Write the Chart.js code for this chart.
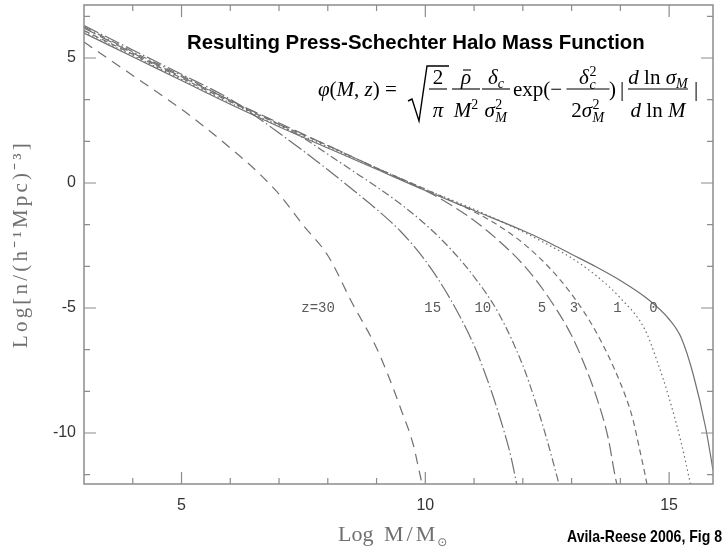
<!DOCTYPE html>
<html><head><meta charset="utf-8">
<script src="https://cdn.jsdelivr.net/npm/chart.js@4/dist/chart.umd.min.js"></script>
<style>html,body{margin:0;padding:0;background:#fff;}#wrap{position:relative;width:727px;height:552px;}</style>
</head><body><div id="wrap"><canvas id="c"></canvas></div>
<script>
// ---- data (log M/Msun, log n) ----
const z0_logM  = [3,4,5,6,7,8,9,10,11,12,12.5,13,13.5,14,14.5,15,15.25,15.5,15.75,15.9,16];
const z0_logN  = [6.0,5.05,4.1,3.15,2.25,1.4,0.55,-0.3,-1.1,-1.9,-2.35,-2.85,-3.35,-3.9,-4.55,-5.45,-6.2,-7.7,-9.8,-11.5,-12.8];
const z1_logM  = [3,4,5,6,7,8,9,10,11,12,12.5,13,13.5,14,14.5,14.75,15,15.25,15.4,15.5];
const z1_logN  = [6.05,5.1,4.15,3.2,2.3,1.45,0.6,-0.25,-1.05,-1.95,-2.45,-3.0,-3.7,-4.6,-5.85,-7.1,-8.6,-10.4,-11.7,-12.6];
const z3_logM  = [3,4,5,6,7,8,9,10,11,11.5,12,12.5,13,13.5,14,14.25,14.4,14.5,14.6];
const z3_logN  = [6.1,5.15,4.2,3.25,2.35,1.5,0.6,-0.25,-1.15,-1.7,-2.4,-3.3,-4.45,-5.95,-8.0,-9.4,-10.7,-11.6,-12.6];
const z5_logM  = [3,4,5,6,7,8,9,10,10.5,11,11.5,12,12.5,13,13.25,13.5,13.75,13.9,14.0];
const z5_logN  = [6.2,5.2,4.25,3.3,2.4,1.5,0.6,-0.3,-0.85,-1.5,-2.3,-3.25,-4.5,-6.1,-7.2,-8.5,-10.2,-11.8,-12.6];
const z10_logM = [3,4,5,6,7,7.5,8,8.5,9,9.5,10,10.5,11,11.5,12,12.25,12.5,12.75];
const z10_logN = [6.25,5.25,4.3,3.3,2.35,1.8,1.15,0.5,-0.15,-0.85,-1.65,-2.6,-3.75,-5.2,-7.3,-8.7,-10.3,-12.1];
const z15_logM = [3,4,5,6,6.5,7,7.5,8,8.5,9,9.5,10,10.5,11,11.25,11.5,11.75,11.9];
const z15_logN = [6.3,5.32,4.35,3.35,2.7,2.0,1.28,0.53,-0.25,-1.05,-1.95,-3.1,-4.6,-6.5,-7.75,-9.2,-10.9,-12.3];
const z30_logM = [3,4,5,5.5,6,6.5,7,7.5,8,8.5,9,9.25,9.5,9.75,9.9,10.0];
const z30_logN = [5.64,4.3,2.95,2.2,1.4,0.55,-0.45,-1.7,-2.9,-4.8,-6.6,-7.75,-9.05,-10.45,-11.75,-12.6];

const redshiftLabels = ['0','1','3','5','10','15','z=30'];
const labelLogM      = [14.68,13.94,13.05,12.39,11.18,10.15,7.8];
const labelLogN      = [-5,-5,-5,-5,-5,-5,-5];

const xTickLabels  = [5,10,15];
const yTickLabels  = [5,0,-5,-10];
const xMinorTicks  = [4,5,6,7,8,9,10,11,12,13,14,15];
const yMinorTicks  = [-35/3,-10,-25/3,-20/3,-5,-10/3,-5/3,0,5/3,10/3,5,20/3];

const X_MIN = 3, X_MAX = 15.9, Y_MIN = -12.04, Y_MAX = 7.12;

function pts(xs, ys){ return xs.map((x,i)=>({x:x, y:ys[i]})); }
const grey = '#707070';
function ds(xs, ys, dash){
  return {data: pts(xs,ys), borderColor: grey, borderWidth: 1.2, borderDash: dash,
          pointRadius: 0, fill: false, cubicInterpolationMode: 'monotone', clip: 0};
}
function isMajor(v, list){ return list.some(t=>Math.abs(t-v)<1e-6); }
function zeroPad(s){ s.paddingTop = 0; s.paddingBottom = 0; s.paddingLeft = 0; s.paddingRight = 0; }

const decor = {
  id: 'decor',
  afterDatasetsDraw(chart){
    const {ctx, chartArea:a, scales:{x,y}} = chart;
    ctx.save();
    ctx.strokeStyle = '#8c8c8c'; ctx.lineWidth = 1.5;
    ctx.strokeRect(a.left, a.top, a.right-a.left, a.bottom-a.top);
    ctx.lineWidth = 1.2;
    ctx.beginPath();
    xMinorTicks.forEach(v=>{
      const p = x.getPixelForValue(v); const L = isMajor(v,xTickLabels)?12:6;
      ctx.moveTo(p,a.bottom); ctx.lineTo(p,a.bottom-L);
      ctx.moveTo(p,a.top); ctx.lineTo(p,a.top+L);
    });
    yMinorTicks.forEach(v=>{
      const p = y.getPixelForValue(v); const L = isMajor(v,yTickLabels)?12:6;
      ctx.moveTo(a.left,p); ctx.lineTo(a.left+L,p);
      ctx.moveTo(a.right,p); ctx.lineTo(a.right-L,p);
    });
    ctx.stroke();
    ctx.fillStyle = '#5a5a5a'; ctx.font = '14px "Liberation Mono"';
    ctx.textAlign = 'center'; ctx.textBaseline = 'middle';
    redshiftLabels.forEach((s,i)=>{
      ctx.fillText(s, x.getPixelForValue(labelLogM[i]), y.getPixelForValue(labelLogN[i]));
    });
    ctx.restore();
  },
  afterDraw(chart){
    const ctx = chart.ctx;
    ctx.save();
    ctx.fillStyle = '#000'; ctx.font = 'bold 20.4px "Liberation Sans"';
    ctx.textAlign = 'left'; ctx.textBaseline = 'middle';
    ctx.fillText('Resulting Press-Schechter Halo Mass Function', 187, 43);
    ctx.save();
    ctx.font = 'bold 17px "Liberation Sans"';
    const cap = 'Avila-Reese 2006, Fig 8';
    const cw = ctx.measureText(cap).width;
    ctx.translate(567, 537); ctx.scale(155/cw, 1);
    ctx.fillText(cap, 0, 0);
    ctx.restore();
    ctx.fillStyle = '#707070'; ctx.textBaseline = 'alphabetic';
    ctx.font = '22px "Liberation Serif"';
    ctx.fillText('Log', 338, 541);
    try { ctx.letterSpacing = '3px'; } catch(e){}
    ctx.fillText('M/M', 384, 541);
    const mw = ctx.measureText('M/M').width;
    try { ctx.letterSpacing = '0px'; } catch(e){}
    ctx.font = '12px "DejaVu Sans"';
    ctx.fillText('\u2299', 384 + mw - 1, 546);
    ctx.translate(21, 244); ctx.rotate(-Math.PI/2);
    ctx.font = '21px "Liberation Serif"'; ctx.fillStyle = '#707070';
    ctx.textAlign = 'center'; ctx.textBaseline = 'middle';
    try { ctx.letterSpacing = '3.2px'; } catch(e){}
    ctx.fillText('Log[n/(h\u207B\u00B9Mpc)\u207B\u00B3]', 0, 0);
    ctx.restore();
    drawFormula(ctx);
  }
};

function drawFormula(ctx){
  const F = 'italic 21px "Liberation Serif"', R = '21px "Liberation Serif"';
  const S = 'italic 14px "Liberation Serif"', SR = '14px "Liberation Serif"';
  const base = 96, bar = 89, num = 84, den = 117;
  ctx.save();
  ctx.fillStyle = '#000'; ctx.strokeStyle = '#000'; ctx.lineWidth = 1.1;
  ctx.textAlign = 'left'; ctx.textBaseline = 'alphabetic';
  function width(items){
    let w = 0;
    items.forEach(it=>{
      if (it.sup !== undefined){ ctx.font = SR; const a = ctx.measureText(it.sup).width; ctx.font = S; const b = ctx.measureText(it.sub).width; w += Math.max(a,b)+1; }
      else { ctx.font = it.f; w += ctx.measureText(it.s).width; }
    });
    return w;
  }
  function draw(items, x, yb){
    items.forEach(it=>{
      if (it.sup !== undefined){
        ctx.font = SR; const a = ctx.measureText(it.sup).width; ctx.fillText(it.sup, x+0.5, yb-8);
        ctx.font = S; const b = ctx.measureText(it.sub).width; ctx.fillText(it.sub, x+0.5, yb+5);
        x += Math.max(a,b)+1;
      } else {
        ctx.font = it.f; ctx.fillText(it.s, x, yb + (it.dy||0));
        const ww = ctx.measureText(it.s).width;
        if (it.over){ ctx.beginPath(); ctx.moveTo(x+2, yb-14); ctx.lineTo(x+ww, yb-14); ctx.stroke(); }
        x += ww;
      }
    });
    return x;
  }
  function frac(cx, n, d, W){
    const wn = width(n), wd = width(d);
    W = W || Math.max(wn,wd)+4;
    draw(n, cx - wn/2, num);
    draw(d, cx - wd/2, den);
    ctx.beginPath(); ctx.moveTo(cx-W/2, bar); ctx.lineTo(cx+W/2, bar); ctx.stroke();
  }
  draw([{s:'\u03C6',f:F},{s:'(',f:R},{s:'M',f:F},{s:', ',f:R},{s:'z',f:F},{s:') = ',f:R}], 318, base);
  ctx.beginPath();
  ctx.moveTo(408, 101); ctx.lineTo(412, 99); ctx.lineTo(419, 121); ctx.lineTo(427, 66); ctx.lineTo(449, 66);
  ctx.lineWidth = 1.4; ctx.stroke(); ctx.lineWidth = 1.1;
  frac(438, [{s:'2',f:R}], [{s:'\u03C0',f:F}], 18);
  frac(466, [{s:'\u03C1',f:F,over:true}], [{s:'M',f:F},{s:'2',f:SR,dy:-8}], 28);
  frac(496, [{s:'\u03B4',f:F},{s:'c',f:S,dy:4}], [{s:'\u03C3',f:F},{sup:'2',sub:'M'}], 28);
  draw([{s:'exp(\u2212',f:R}], 513, base);
  frac(588, [{s:'\u03B4',f:F},{sup:'2',sub:'c'}], [{s:'2',f:R},{s:'\u03C3',f:F},{sup:'2',sub:'M'}], 43);
  draw([{s:')',f:R}], 609, base);
  draw([{s:'|',f:R}], 620, base);
  frac(658, [{s:'d',f:F},{s:' ln ',f:R},{s:'\u03C3',f:F},{s:'M',f:S,dy:4}], [{s:'d',f:F},{s:' ln ',f:R},{s:'M',f:F}], 60);
  draw([{s:'|',f:R}], 694, base);
  ctx.restore();
}

new Chart(document.getElementById('c'), {
  type: 'line',
  data: { datasets: [
    ds(z0_logM,  z0_logN,  []),
    ds(z1_logM,  z1_logN,  [1.5,3]),
    ds(z3_logM,  z3_logN,  [6,4]),
    ds(z5_logM,  z5_logN,  [13,5]),
    ds(z10_logM, z10_logN, [8,3,1.5,3]),
    ds(z15_logM, z15_logN, [16,3,1.5,3]),
    ds(z30_logM, z30_logN, [10,7])
  ]},
  options: {
    responsive: true, maintainAspectRatio: false, animation: false,
    layout: { padding: { left: 0, right: 14, top: 5, bottom: 0 } },
    plugins: { legend: {display:false}, tooltip: {enabled:false}, title: {display:false} },
    scales: {
      x: { type: 'linear', min: X_MIN, max: X_MAX,
           grid: { display: false, drawTicks: false }, border: { display: false },
           afterBuildTicks: s => { s.ticks = xTickLabels.map(v=>({value:v})); },
           afterFit: s => { s.height = 68; zeroPad(s); },
           ticks: { font: { family: 'Liberation Sans', size: 16 }, color: '#333', padding: 12, maxRotation: 0 } },
      y: { type: 'linear', min: Y_MIN, max: Y_MAX,
           grid: { display: false, drawTicks: false }, border: { display: false },
           afterBuildTicks: s => { s.ticks = yTickLabels.map(v=>({value:v})); },
           afterFit: s => { s.width = 84; zeroPad(s); },
           ticks: { font: { family: 'Liberation Sans', size: 16 }, color: '#333', padding: 8 } }
    }
  },
  plugins: [decor]
});
</script></body></html>
